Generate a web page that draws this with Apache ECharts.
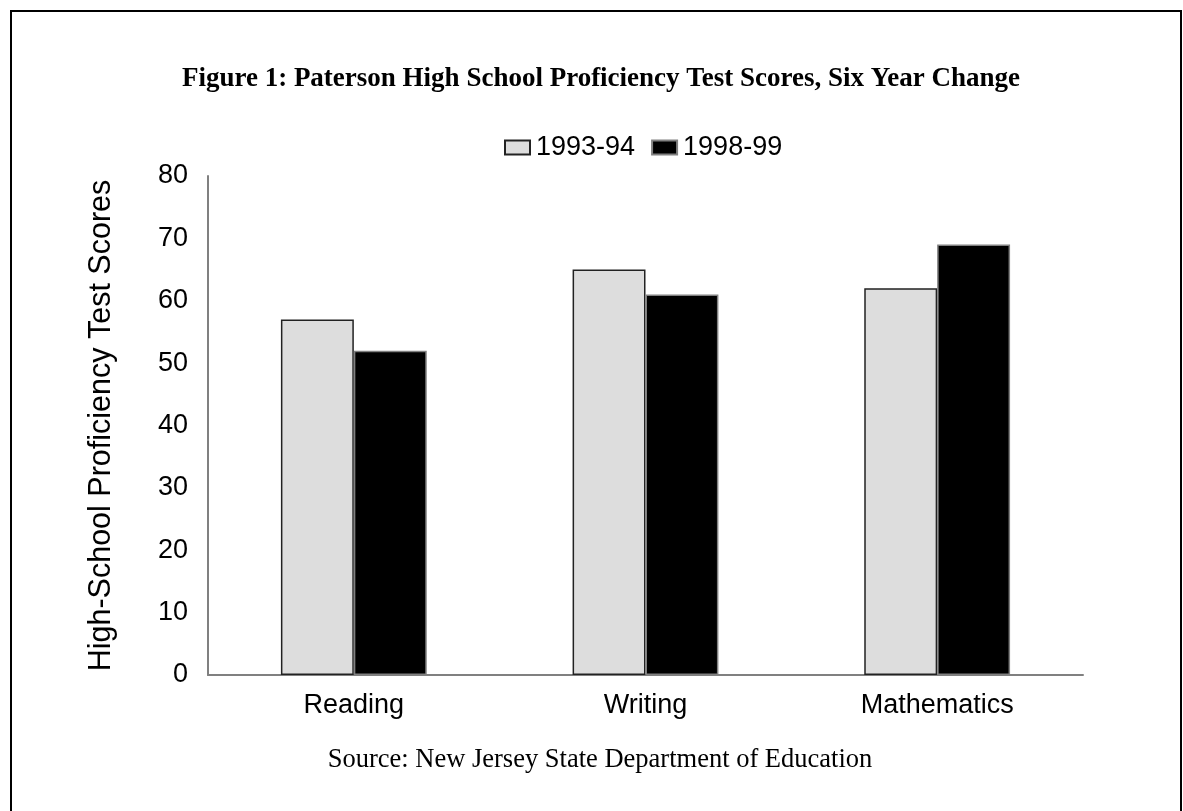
<!DOCTYPE html>
<html>
<head>
<meta charset="utf-8">
<title>Paterson High School Proficiency Test Scores</title>
<script src="https://cdn.jsdelivr.net/npm/echarts@6/dist/echarts.min.js"></script>
<style>
  html, body { margin: 0; padding: 0; background: #ffffff; }
  #chart { width: 1183px; height: 811px; }
</style>
</head>
<body>
<div id="chart"></div>
<script>
// Subjects on the x axis
const subjects = ['Reading', 'Writing', 'Mathematics'];
// School years compared
const years = ['1993-94', '1998-99'];
// Proficiency test scores per subject, by year
const scores1993 = [57, 65, 62];
const scores1998 = [52, 61, 69];
// Value axis range
const yMin = 0;
const yMax = 80;
const yStep = 10;

const sansFont = '"Liberation Sans", Arial, sans-serif';
const serifFont = '"Liberation Serif", "Times New Roman", serif';

const chart = echarts.init(document.getElementById('chart'), null, { renderer: 'canvas' });

chart.setOption({
  backgroundColor: '#ffffff',
  animation: false,
  title: [
    {
      text: 'Figure 1: Paterson High School Proficiency Test Scores, Six Year Change',
      left: 596,
      top: 61,
      textAlign: 'center',
      textStyle: { fontFamily: serifFont, fontWeight: 'bold', fontSize: 27, color: '#000' }
    },
    {
      text: 'Source: New Jersey State Department of Education',
      left: 595,
      top: 742,
      textAlign: 'center',
      textStyle: { fontFamily: serifFont, fontWeight: 'normal', fontSize: 26.5, color: '#000' }
    }
  ],
  legend: {
    data: years,
    left: 499,
    top: 129,
    itemWidth: 25,
    itemHeight: 14,
    itemGap: 16,
    icon: 'rect',
    textStyle: { fontFamily: sansFont, fontSize: 27, color: '#000', padding: [0, 0, 0, 1] }
  },
  grid: { left: 208, right: 100, top: 176, bottom: 136, containLabel: false },
  xAxis: {
    type: 'category',
    data: subjects,
    axisLine: { lineStyle: { color: '#808080', width: 2 } },
    axisTick: { show: false },
    axisLabel: { fontFamily: sansFont, fontSize: 27, color: '#000', margin: 17 }
  },
  yAxis: {
    type: 'value',
    min: yMin,
    max: yMax,
    interval: yStep,
    name: 'High-School Proficiency Test Scores',
    nameLocation: 'middle',
    nameGap: 106,
    nameRotate: 90,
    nameTextStyle: { fontFamily: sansFont, fontSize: 30.5, color: '#000', verticalAlign: 'middle' },
    axisLine: { show: true, lineStyle: { color: '#808080', width: 2 } },
    axisTick: { show: false },
    splitLine: { show: false },
    axisLabel: { fontFamily: sansFont, fontSize: 27, color: '#000', margin: 20 }
  },
  series: [
    {
      name: years[0],
      type: 'bar',
      data: scores1993,
      barGap: '0%',
      barCategoryGap: '50%',
      itemStyle: { color: '#dddddd', borderColor: '#222222', borderWidth: 1.5 }
    },
    {
      name: years[1],
      type: 'bar',
      data: scores1998,
      itemStyle: { color: '#000000', borderColor: '#808080', borderWidth: 1.5 }
    }
  ],
  graphic: [
    {
      type: 'rect',
      shape: { x: 11, y: 11, width: 1170, height: 830 },
      style: { fill: null, stroke: '#000', lineWidth: 2 },
      silent: true
    }
  ]
});
</script>
</body>
</html>
